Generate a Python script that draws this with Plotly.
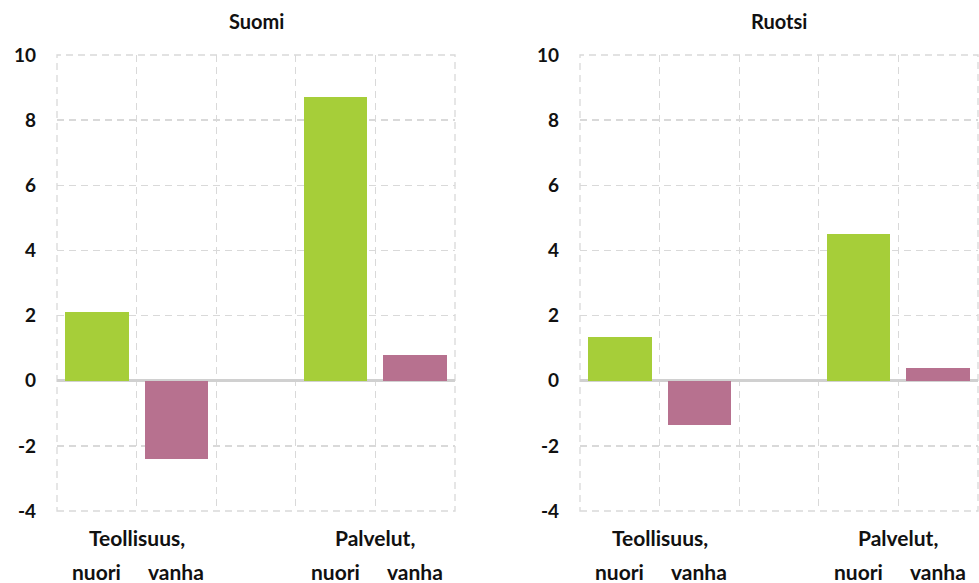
import plotly.graph_objects as go
from plotly.subplots import make_subplots

panels = ["Suomi", "Ruotsi"]
groups = ["Teollisuus,", "Palvelut,"]
ages = ["nuori", "vanha"]
suomi = [2.1, -2.4, 8.7, 0.8]      # Teollisuus nuori, vanha, Palvelut nuori, vanha
ruotsi = [1.35, -1.35, 4.5, 0.4]
yticks = [-4, -2, 0, 2, 4, 6, 8, 10]

slot_pos = [0.5, 1.5, 3.5, 4.5]
bar_colors = ["#a6ce39", "#b7718f", "#a6ce39", "#b7718f"]
FONT = "Lato"
DASH = "7px,5px"

fig = make_subplots(rows=1, cols=2)
for i, vals in enumerate([suomi, ruotsi]):
    fig.add_trace(go.Bar(x=slot_pos, y=vals, width=0.8,
                         marker=dict(color=bar_colors, line=dict(width=0)),
                         showlegend=False, hoverinfo="skip"), row=1, col=i + 1)

xdoms = [[57 / 979, 455 / 979], [580 / 979, 978 / 979]]
ydom = [1 - 511 / 583, 1 - 55 / 583]
grid = "#d9d9d9"
for i in range(2):
    xa = "xaxis" if i == 0 else "xaxis2"
    ya = "yaxis" if i == 0 else "yaxis2"
    fig.layout[xa].update(domain=xdoms[i], range=[0, 5], tickvals=[0, 1, 2, 3, 4, 5],
                          showticklabels=False, showgrid=True, gridcolor=grid,
                          griddash=DASH, gridwidth=1.3, zeroline=False, showline=False,
                          ticks="", automargin=False, fixedrange=True)
    fig.layout[ya].update(domain=ydom, range=[-4, 10], tickvals=yticks,
                          ticktext=["<b>%d</b>" % v for v in yticks],
                          showgrid=True, gridcolor=grid, griddash=DASH, gridwidth=1.3,
                          zeroline=True, zerolinecolor="#d0d0d0", zerolinewidth=2.5,
                          showline=False, ticks="", ticklabelstandoff=20,
                          tickfont=dict(family=FONT, size=19, color="#111111"),
                          automargin=False, fixedrange=True)
    xref = "x" if i == 0 else "x2"
    yref = "y" if i == 0 else "y2"
    fig.add_shape(type="rect", xref=xref + " domain", yref=yref + " domain",
                  x0=0, x1=1, y0=0, y1=1, layer="below",
                  line=dict(color=grid, width=1.3, dash=DASH))
    cx = (xdoms[i][0] + xdoms[i][1]) / 2
    fig.add_annotation(text="<b>" + panels[i] + "</b>", xref="paper", yref="paper",
                       x=cx, y=1 - 21 / 583, showarrow=False, xanchor="center", yanchor="middle",
                       font=dict(family=FONT, size=20, color="#111111"))
    for g, gx in enumerate([1, 4]):
        fig.add_annotation(text="<b>" + groups[g] + "</b>", xref=xref, yref="paper",
                           x=gx, y=1 - 537 / 583, showarrow=False, xanchor="center", yanchor="middle",
                           font=dict(family=FONT, size=21, color="#111111"))
        for a, ax_ in enumerate([gx - 0.5, gx + 0.5]):
            fig.add_annotation(text="<b>" + ages[a] + "</b>", xref=xref, yref="paper",
                               x=ax_, y=1 - 571 / 583, showarrow=False, xanchor="center",
                               yanchor="middle",
                               font=dict(family=FONT, size=21, color="#111111"))

fig.update_layout(width=979, height=583, margin=dict(l=0, r=0, t=0, b=0),
                  plot_bgcolor="white", paper_bgcolor="white", bargap=0,
                  font=dict(family=FONT), hovermode=False)
fig.write_html("out.html", config={"displayModeBar": False, "staticPlot": True},
               post_script="document.body.style.margin='0';document.body.style.overflow='hidden';")
